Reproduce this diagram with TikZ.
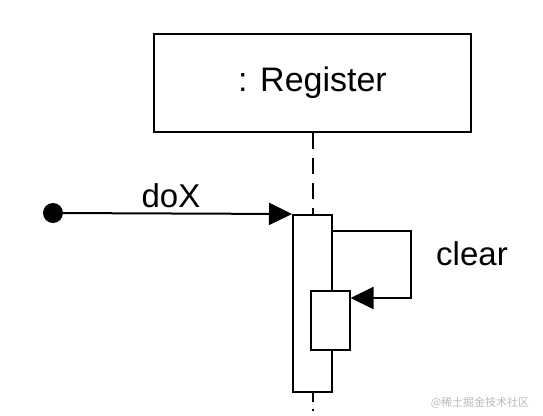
\documentclass[tikz,border=0pt]{standalone}
\usepackage{fontspec}
\setmainfont{Liberation Sans}
\newfontfamily\cjkfont{Noto Sans CJK SC}
\usetikzlibrary{arrows.meta, positioning, calc}

\begin{document}
\begin{tikzpicture}[
    x=1pt, y=-1pt,
    line width=2pt,
    objbox/.style={rectangle, draw, inner sep=0pt, minimum width=317pt, minimum height=98pt, font=\fontsize{34}{40}\selectfont},
    actbar/.style={rectangle, draw, fill=white, inner sep=0pt, minimum width=39pt},
    msglabel/.style={anchor=base, font=\fontsize{33}{39}\selectfont},
    lifeline/.style={dash pattern=on 16pt off 9pt},
    msg/.style={-{Triangle[length=23pt, width=22pt]}},
]
    \useasboundingbox (0,0) rectangle (543,415);

    % Object and activation bars
    \node[objbox] (reg) at (312.5,83) {: Register};
    \node[actbar, minimum height=177pt, below=81pt of reg.south] (act) {};
    \node[actbar, minimum height=59pt, anchor=north] (inner) at ($(act.north)+(17.5,76)$) {};

    % Lifeline
    \draw[lifeline] (reg.south) -- (act.north);
    \coordinate (lifeend) at ($(act.south)+(0,20)$);
    \draw[dash pattern=on 9pt off 7pt on 2pt off 9pt] (act.south) -- (lifeend);

    % Incoming message
    \node[circle, fill, inner sep=0pt, minimum size=20pt] (src) at (53,213) {};
    \draw[msg] (src.center) -- (act.north west);
    \node[msglabel] (dox) at (171,207) {doX};

    % Self call
    \coordinate (selfout) at ($(act.north east)+(0,17)$);
    \coordinate (selfin) at ($(inner.north east)+(0,8)$);
    \draw[msg] (selfout) -| ($(selfin)+(60,0)$) -- (selfin);
    \node[msglabel] (clr) at (472,265) {clear};

    % Watermark
    \node[text=gray!55, font=\cjkfont\fontsize{11}{13}\selectfont] (mark) at (480,403) {@稀土掘金技术社区};
\end{tikzpicture}
\end{document}
